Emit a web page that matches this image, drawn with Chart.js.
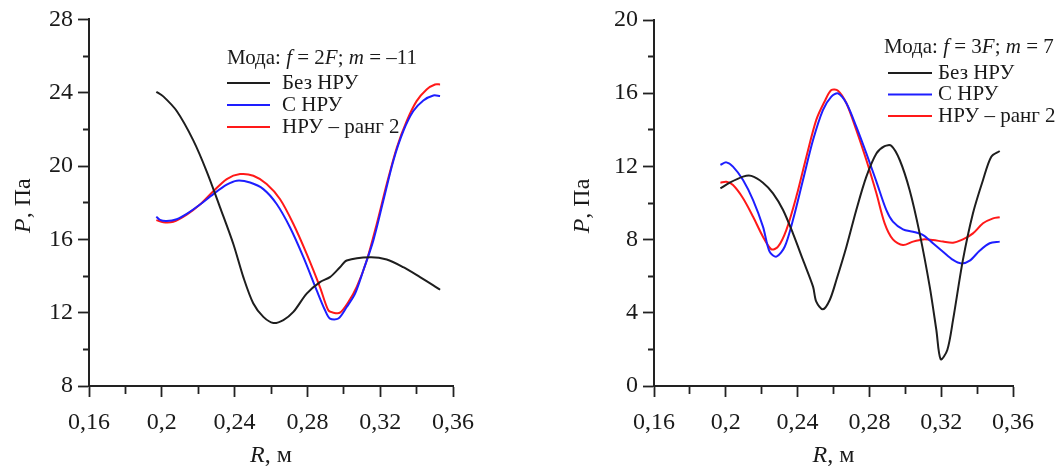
<!DOCTYPE html>
<html><head><meta charset="utf-8">
<script src="https://cdn.jsdelivr.net/npm/chart.js@4"></script>
<style>
body{margin:0;background:#fff;width:1063px;height:468px;overflow:hidden;position:relative}
.w{position:absolute;top:0}
</style></head><body>
<div class="w" style="left:0;width:531px;height:468px"><canvas id="c1" width="531" height="468"></canvas></div>
<div class="w" style="left:531px;width:532px;height:468px"><canvas id="c2" width="532" height="468"></canvas></div>
<script>
// ---- DATA ----
const seriesLabels = ['Без НРУ', 'С НРУ', 'НРУ – ранг 2'];
const seriesColors = ['rgb(30,30,30)', 'rgb(30,30,255)', 'rgb(255,25,25)'];

// Left chart: f = 2F; m = -11
const leftBezR = [0.197,0.2008,0.2082,0.2173,0.2247,0.232,0.2393,0.2448,0.2503,0.2558,0.2613,0.2668,0.2723,0.2796,0.2869,0.2924,0.2979,0.3016,0.3144,0.3236,0.3327,0.3419,0.3492,0.3529];
const leftBezP = [24.05,23.8,23.0,21.4,19.7,17.75,15.75,13.94,12.5,11.77,11.44,11.6,12.04,13.04,13.67,13.94,14.48,14.85,15.03,14.9,14.48,13.94,13.49,13.25];
const leftSR = [0.197,0.199,0.2027,0.2082,0.2137,0.221,0.2283,0.2357,0.2412,0.2485,0.2558,0.2631,0.2704,0.2778,0.2851,0.2897,0.2924,0.297,0.3016,0.3062,0.3107,0.3162,0.3217,0.3272,0.3327,0.3382,0.3437,0.3492,0.3529];
const leftSP = [17.24,17.06,17.0,17.1,17.39,17.9,18.47,18.98,19.2,19.1,18.74,17.93,16.66,15.03,13.22,12.13,11.68,11.68,12.31,13.04,14.3,15.93,18.1,20.28,21.9,23.0,23.58,23.85,23.82];
const leftRangR = [0.197,0.2008,0.2063,0.2137,0.221,0.2283,0.2357,0.243,0.2503,0.2576,0.2649,0.2723,0.2796,0.2869,0.2915,0.2943,0.2979,0.3025,0.3071,0.3126,0.3181,0.3236,0.3291,0.3346,0.34,0.3455,0.3501,0.3529];
const leftRangP = [17.05,16.93,16.96,17.35,17.9,18.62,19.29,19.56,19.47,19.02,18.2,16.84,15.21,13.4,12.13,12.0,12.0,12.58,13.4,14.85,16.84,19.02,21.0,22.46,23.54,24.18,24.45,24.45];

// Right chart: f = 3F; m = 7
const rightBezR = [0.197,0.2022,0.2096,0.2142,0.2207,0.2263,0.2319,0.2374,0.243,0.2486,0.2504,0.2541,0.2579,0.2616,0.2672,0.2727,0.2783,0.2839,0.2885,0.2922,0.2969,0.3024,0.308,0.3136,0.3173,0.3197,0.3234,0.3266,0.3321,0.3377,0.3433,0.3479,0.3526];
const rightBezP = [10.8,11.11,11.44,11.48,11.11,10.53,9.62,8.34,6.89,5.43,4.61,4.19,4.7,5.79,7.61,9.62,11.44,12.71,13.11,13.13,12.35,10.71,8.34,5.43,3.06,1.46,1.97,3.61,6.89,9.44,11.26,12.53,12.84];
const rightSR = [0.197,0.2003,0.204,0.2096,0.2152,0.2207,0.2244,0.2282,0.2328,0.2374,0.243,0.2486,0.2541,0.2588,0.2625,0.2672,0.2727,0.2783,0.2839,0.2894,0.2931,0.2987,0.3043,0.3099,0.3154,0.321,0.3266,0.3312,0.3359,0.3414,0.347,0.3526];
const rightSP = [12.08,12.22,11.99,11.26,10.16,8.71,7.34,7.07,7.61,9.07,11.26,13.44,15.08,15.81,15.99,15.45,14.17,12.71,11.17,9.62,8.98,8.56,8.43,8.25,7.8,7.34,6.89,6.7,6.85,7.39,7.8,7.89];
const rightRangR = [0.197,0.2003,0.204,0.2096,0.2152,0.2207,0.2254,0.2291,0.2337,0.2393,0.2449,0.2504,0.255,0.2588,0.2625,0.2672,0.2727,0.2783,0.2839,0.2885,0.2931,0.2987,0.3043,0.3099,0.3154,0.321,0.3266,0.3321,0.3377,0.3433,0.3489,0.3526];
const rightRangP = [11.11,11.16,10.98,10.26,9.25,8.16,7.47,7.61,8.52,10.35,12.53,14.54,15.54,16.17,16.14,15.45,13.99,12.35,10.53,8.89,8.01,7.7,7.89,8.01,7.98,7.89,7.83,8.01,8.34,8.89,9.16,9.22];

const xMin = 0.16, xMax = 0.36, xStep = 0.02;
const leftYMin = 8, leftYMax = 28, rightYMin = 0, rightYMax = 20, yStep = 2;
const leftLegendTitle = [['Мода: ',0],['f',1],[' = 2',0],['F',1],['; ',0],['m',1],[' = –11',0]];
const rightLegendTitle = [['Мода: ',0],['f',1],[' = 3',0],['F',1],['; ',0],['m',1],[' = 7',0]];
const yTitle = [['P',1],[', Па',0]];
const xTitle = [['R',1],[', м',0]];

// ---- HELPERS ----
const FONT = '"Liberation Serif", "Times New Roman", serif';
function pts(xs, ys){ return xs.map((x,i)=>({x:x, y:ys[i]})); }
function fmt(v){ return String(Number(v.toFixed(2))).replace('.', ','); }
function drawRich(ctx, parts, x, y, size, align){
  const w = parts.map(p=>{ ctx.font = (p[1]?'italic ':'') + size + 'px ' + FONT; return ctx.measureText(p[0]).width; });
  const total = w.reduce((a,b)=>a+b,0);
  let sx = align === 'center' ? x - total/2 : x;
  ctx.textBaseline = 'middle'; ctx.textAlign = 'left'; ctx.fillStyle = '#1a1a1a';
  parts.forEach((p,i)=>{ ctx.font = (p[1]?'italic ':'') + size + 'px ' + FONT; ctx.fillText(p[0], sx, y); sx += w[i]; });
}

function makeChart(id, cfg){
  const data = {datasets: cfg.series.map((s,i)=>({
    label: seriesLabels[i], data: pts(s[0], s[1]), borderColor: seriesColors[i],
    borderWidth: 2, pointRadius: 0, tension: 0.3, fill: false
  }))};
  const decor = {
    id: 'decor',
    afterDraw(chart){
      const ctx = chart.ctx, a = chart.chartArea;
      ctx.save();
      drawRich(ctx, xTitle, (a.left + a.right)/2, 456, 24, 'center');
      ctx.save();
      ctx.translate(cfg.yTitleX, (a.top + a.bottom)/2 + 3);
      ctx.rotate(-Math.PI/2);
      drawRich(ctx, yTitle, 0, 0, 24, 'center');
      ctx.restore();
      const L = cfg.legend;
      drawRich(ctx, L.title, L.titleX, L.titleY, 21, 'left');
      chart.data.datasets.forEach((ds,i)=>{
        const y = L.y0 + i*L.dy;
        ctx.strokeStyle = ds.borderColor; ctx.lineWidth = 2;
        ctx.beginPath(); ctx.moveTo(L.lx0, y); ctx.lineTo(L.lx1, y); ctx.stroke();
        drawRich(ctx, [[ds.label,0]], L.tx, y, 21, 'left');
      });
      ctx.restore();
    }
  };
  return new Chart(document.getElementById(id), {
    type: 'line',
    data: data,
    options: {
      responsive: false, animation: false, devicePixelRatio: 1,
      layout: {padding: {top: cfg.top, right: cfg.right, left: 0, bottom: 0}},
      plugins: {legend: {display: false}, tooltip: {enabled: false}},
      scales: {
        x: {
          type: 'linear', min: xMin, max: xMax,
          afterFit: s => { s.height = 468 - 386; },
          ticks: {stepSize: xStep, autoSkip: false, maxRotation: 0, padding: 11, color: '#1a1a1a',
            font: {family: FONT, size: 24},
            callback: (v,i) => i % 2 === 0 ? fmt(v) : ''},
          grid: {drawOnChartArea: false, drawTicks: true, tickLength: 11, tickColor: '#222', tickWidth: 1.8,
            tickBorderDash: c => c.index % 2 === 0 ? [] : [7, 100]},
          border: {display: true, color: '#222', width: 2}
        },
        y: {
          type: 'linear', min: cfg.yMin, max: cfg.yMax,
          afterFit: s => { s.width = cfg.left; },
          ticks: {stepSize: yStep, autoSkip: false, padding: 5, color: '#1a1a1a',
            font: {family: FONT, size: 24},
            callback: (v,i) => i % 2 === 0 ? String(v) : ''},
          grid: {drawOnChartArea: false, drawTicks: true, tickLength: 11, tickColor: '#222', tickWidth: 1.8,
            tickBorderDash: c => c.index % 2 === 0 ? [] : [0, 5, 6, 100]},
          border: {display: true, color: '#222', width: 2}
        }
      }
    },
    plugins: [decor]
  });
}

makeChart('c1', {
  series: [[leftBezR, leftBezP], [leftSR, leftSP], [leftRangR, leftRangP]],
  yMin: leftYMin, yMax: leftYMax, left: 89, right: 531 - 453, top: 18, yTitleX: 24,
  legend: {title: leftLegendTitle, titleX: 227, titleY: 58, lx0: 227, lx1: 270, tx: 282, y0: 83, dy: 22}
});
makeChart('c2', {
  series: [[rightBezR, rightBezP], [rightSR, rightSP], [rightRangR, rightRangP]],
  yMin: rightYMin, yMax: rightYMax, left: 123, right: 532 - 482, top: 20, yTitleX: 52,
  legend: {title: rightLegendTitle, titleX: 353, titleY: 47, lx0: 357, lx1: 401, tx: 407, y0: 73, dy: 21.5}
});
</script>
</body></html>
